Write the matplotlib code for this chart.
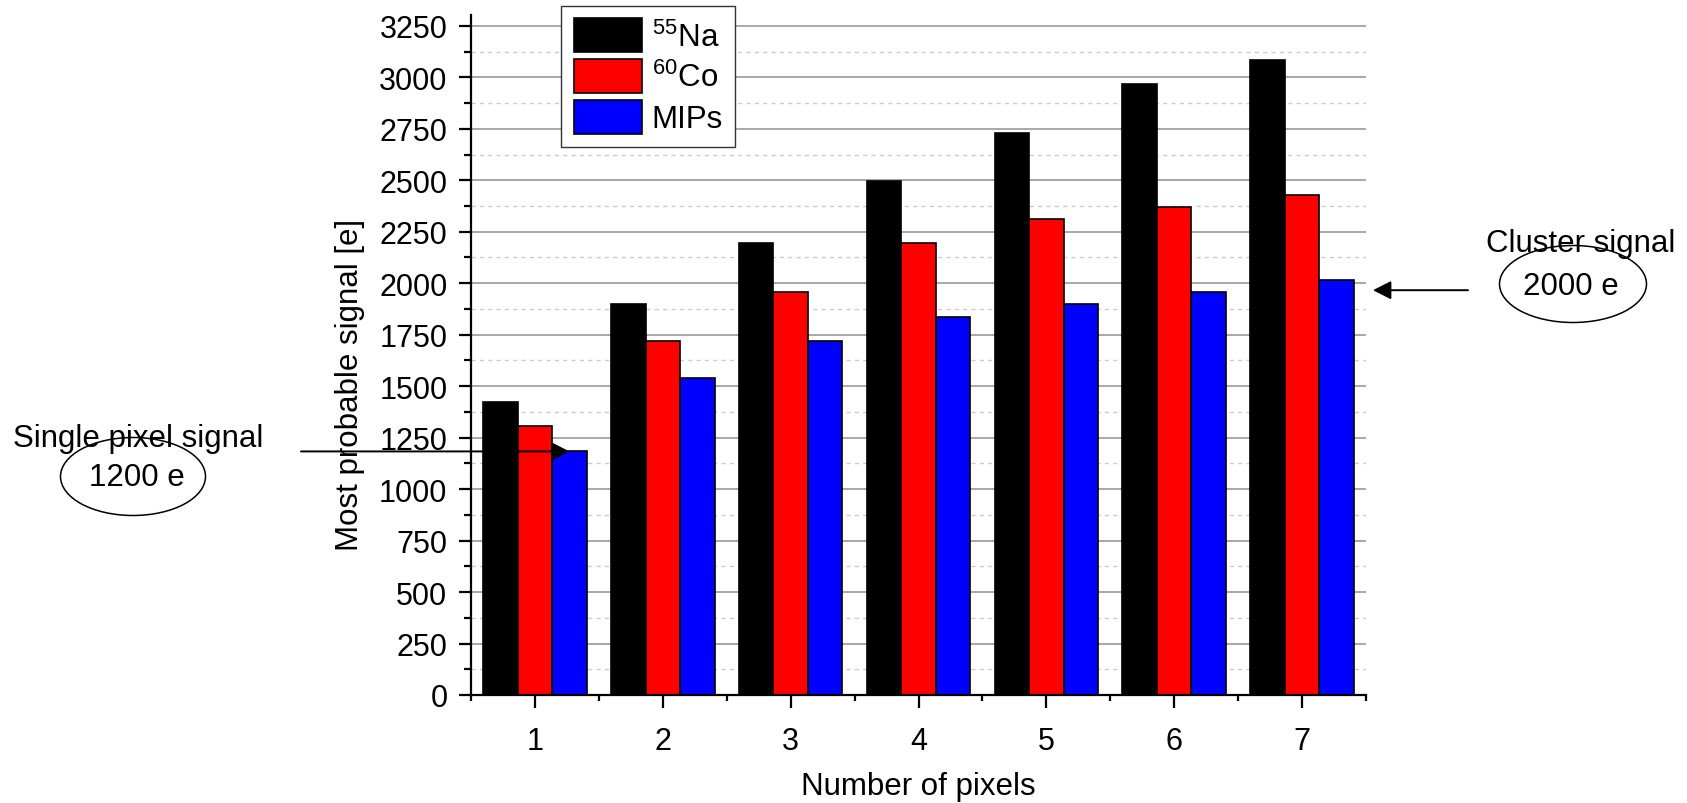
import matplotlib
matplotlib.use('Agg')
import matplotlib.pyplot as plt
from matplotlib.patches import Ellipse
from matplotlib.ticker import MultipleLocator, FixedLocator
import numpy as np

plt.rcParams['font.family'] = ['Liberation Sans', 'DejaVu Sans']
plt.rcParams['mathtext.fontset'] = 'custom'
plt.rcParams['mathtext.rm'] = 'Liberation Sans'
plt.rcParams['mathtext.it'] = 'Liberation Sans'
plt.rcParams['mathtext.bf'] = 'Liberation Sans'

# data
pixels = [1, 2, 3, 4, 5, 6, 7]
na55 = [1425, 1900, 2197, 2495, 2730, 2966, 3084]
co60 = [1305, 1720, 1956, 2194, 2312, 2370, 2429]
mips = [1185, 1541, 1720, 1838, 1899, 1958, 2016]
series_labels = [r'$^{55}$Na', r'$^{60}$Co', 'MIPs']
series_colors = ['#000000', '#ff0000', '#0000ff']

single_level = 1183   # arrow "Single pixel signal"
cluster_level = 1966  # arrow "Cluster signal"

W, H = 1687, 804
fig = plt.figure(figsize=(W / 100, H / 100), dpi=100)
ax = fig.add_axes([471 / W, 1 - 696 / H, (1366 - 471) / W, (696 - 15.5) / H])

x = np.array(pixels, dtype=float)
bw = 0.27
for i, (vals, lab, col) in enumerate(zip([na55, co60, mips], series_labels, series_colors)):
    ax.bar(x + (i - 1) * bw, vals, width=bw, color=col, edgecolor='black',
           linewidth=1.2, label=lab, zorder=2)

ax.set_xlim(0.5, 7.5)
ax.set_ylim(0, 3305)
ax.xaxis.set_major_locator(FixedLocator(pixels))
ax.xaxis.set_minor_locator(FixedLocator(np.arange(0.5, 8, 1)))
ax.yaxis.set_major_locator(MultipleLocator(250))
ax.yaxis.set_minor_locator(MultipleLocator(125))

ax.set_axisbelow(True)
ax.grid(axis='y', which='major', color='#9a9a9a', linewidth=1.2, zorder=0)
ax.grid(axis='y', which='minor', color='#cccccc', linewidth=1.0,
        linestyle=(0, (3, 3)), zorder=0)

for s in ['top', 'right']:
    ax.spines[s].set_visible(False)
for s in ['left', 'bottom']:
    ax.spines[s].set_linewidth(1.6)

ax.tick_params(axis='y', which='major', direction='out', length=9, width=1.6,
               labelsize=22, pad=8)
ax.tick_params(axis='y', which='minor', direction='out', length=5, width=1.6)
ax.tick_params(axis='x', which='major', direction='out', length=9.5, width=1.6,
               labelsize=22, pad=13)
ax.tick_params(axis='x', which='minor', direction='out', length=4.5, width=1.6)

ax.set_xlabel('Number of pixels', fontsize=22.5, va='baseline')
ax.xaxis.set_label_coords(0.5, -(795 - 696) / 680.5)
ax.set_ylabel('Most probable signal [e]', fontsize=22.5, va='center', ha='center')
ax.yaxis.set_label_coords((350 - 471) / 895, (696 - 385) / 680.5)

leg = ax.legend(loc='upper left', bbox_to_anchor=(561 / W, 1 - 6.7 / H),
                bbox_transform=fig.transFigure, borderaxespad=0, fontsize=22.5,
                handlelength=2.2, handleheight=1.3, handletextpad=0.3,
                labelspacing=0.2, borderpad=0.4, fancybox=False, framealpha=1)
leg.get_frame().set_edgecolor('#333333')
leg.get_frame().set_linewidth(1.0)

arrow = dict(arrowstyle='-|>,head_length=0.55,head_width=0.28', color='black',
             lw=1.4, shrinkA=0, shrinkB=0, mutation_scale=20)
ax.annotate('', xy=(1 + bw, single_level), xycoords='data',
            xytext=(301 / W, single_level), textcoords=('figure fraction', 'data'),
            arrowprops=arrow, annotation_clip=False)
ax.annotate('', xy=(1373 / W, cluster_level), xycoords=('figure fraction', 'data'),
            xytext=(1468 / W, cluster_level), textcoords=('figure fraction', 'data'),
            arrowprops=arrow, annotation_clip=False)

fig.add_artist(Ellipse((133 / W, 1 - 477.5 / H), 145 / W, 78 / H, fill=False,
                       edgecolor='black', linewidth=1.1, transform=fig.transFigure))
fig.add_artist(Ellipse((1573 / W, 1 - 285 / H), 147 / W, 77 / H, fill=False,
                       edgecolor='black', linewidth=1.1, transform=fig.transFigure))
fig.text(138.5 / W, 1 - 446.7 / H, 'Single pixel signal', fontsize=22.5,
         ha='center', va='baseline')
fig.text(137 / W, 1 - 486 / H, '1200 e', fontsize=22.5, ha='center', va='baseline')
fig.text(1581 / W, 1 - 251.7 / H, 'Cluster signal', fontsize=22.5,
         ha='center', va='baseline')
fig.text(1571 / W, 1 - 295 / H, '2000 e', fontsize=22.5, ha='center', va='baseline')

fig.savefig('out.png', dpi=100)
